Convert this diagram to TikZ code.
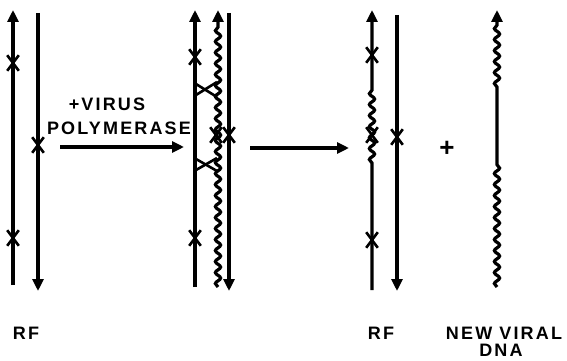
\documentclass[tikz,border=0pt]{standalone}
\usepackage{fontspec}
\newfontfamily\lbl[LetterSpace=12]{Liberation Sans Bold}
\usetikzlibrary{arrows.meta,decorations.pathmorphing,shapes.misc}
\tikzset{
  strand/.style={line width=3.2pt},
  tip/.style={-{Triangle[width=11pt,length=12pt]}},
  wavy/.style={decoration={snake, amplitude=2.6pt, segment length=11pt}},
  site/.style={cross out, draw, line width=2.6pt, minimum width=9pt, minimum height=13pt, inner sep=0pt},
  swap/.style={line width=2.6pt},
  lab/.style={font=\lbl\fontsize{18}{20}\selectfont, inner sep=0pt}
}
\begin{document}
\begin{tikzpicture}[x=1pt, y=-1pt]
    \useasboundingbox (0,0) rectangle (567,361);

    \coordinate (a1t) at (13,10);
    \coordinate (a1b) at (13,285);
    \coordinate (b1t) at (38,13);
    \coordinate (b1b) at (38,291);
    \draw[strand, tip] (a1b) -- (a1t);
    \draw[strand, tip] (b1t) -- (b1b);
    \node[site] (x11) at (13,63) {};
    \node[site] (x12) at (13,238) {};
    \node[site] (x13) at (38,145) {};

    \coordinate (p1s) at (60,147);
    \coordinate (p1e) at (184,147);
    \draw[strand, tip] (p1s) -- (p1e);
    \node[lab] (virus) at (107,104) {+VIRUS};
    \node[lab] (poly) at (119,128) {POLYMERASE};

    \coordinate (a2t) at (195,10);
    \coordinate (a2b) at (195,287);
    \coordinate (w2t) at (218,10);
    \coordinate (w2e) at (218,24);
    \coordinate (w2b) at (218,287);
    \coordinate (b2t) at (229,13);
    \coordinate (b2b) at (229,291);
    \draw[strand, tip] (a2b) -- (a2t);
    \draw[strand, tip] (w2b) decorate[wavy]{-- (w2e)} -- (w2t);
    \draw[strand, tip] (b2t) -- (b2b);
    \node[site] (x21) at (195,57) {};
    \node[site] (x22) at (195,238) {};
    \node[site] (x23) at (216,135) {};
    \node[site] (x24) at (229,135) {};
    \coordinate (c1a) at (196,95);
    \coordinate (c1b) at (217,82);
    \coordinate (c1c) at (196,84);
    \coordinate (c1d) at (217,97);
    \coordinate (c2a) at (196,170);
    \coordinate (c2b) at (217,158);
    \coordinate (c2c) at (196,159);
    \coordinate (c2d) at (217,171);
    \draw[swap] (c1a) -- (c1b);
    \draw[swap] (c1c) -- (c1d);
    \draw[swap] (c2a) -- (c2b);
    \draw[swap] (c2c) -- (c2d);

    \coordinate (p2s) at (250,148);
    \coordinate (p2e) at (349,148);
    \draw[strand, tip] (p2s) -- (p2e);

    \coordinate (a3t) at (372,10);
    \coordinate (a3u) at (372,88);
    \coordinate (a3l) at (372,163);
    \coordinate (a3b) at (372,290);
    \coordinate (b3t) at (397,15);
    \coordinate (b3b) at (397,291);
    \draw[strand, tip] (a3b) -- (a3l) decorate[wavy]{-- (a3u)} -- (a3t);
    \draw[strand, tip] (b3t) -- (b3b);
    \node[site] (x31) at (372,55) {};
    \node[site] (x32) at (372,135) {};
    \node[site] (x33) at (372,240) {};
    \node[site] (x34) at (397,137) {};

    \node[lab, font=\lbl\fontsize{26}{28}\selectfont] (plus) at (447,149) {+};

    \coordinate (d4t) at (497,10);
    \coordinate (d4e) at (497,24);
    \coordinate (d4u) at (497,87);
    \coordinate (d4l) at (497,163);
    \coordinate (d4b) at (497,287);
    \draw[strand, tip] (d4b) decorate[wavy]{-- (d4l)} -- (d4u) decorate[wavy]{-- (d4e)} -- (d4t);

    \node[lab] (rf1) at (26,333) {RF};
    \node[lab] (rf2) at (381,333) {RF};
    \node[lab] (viral) at (504,333) {NEW VIRAL};
    \node[lab] (dna) at (501,350) {DNA};
\end{tikzpicture}
\end{document}
